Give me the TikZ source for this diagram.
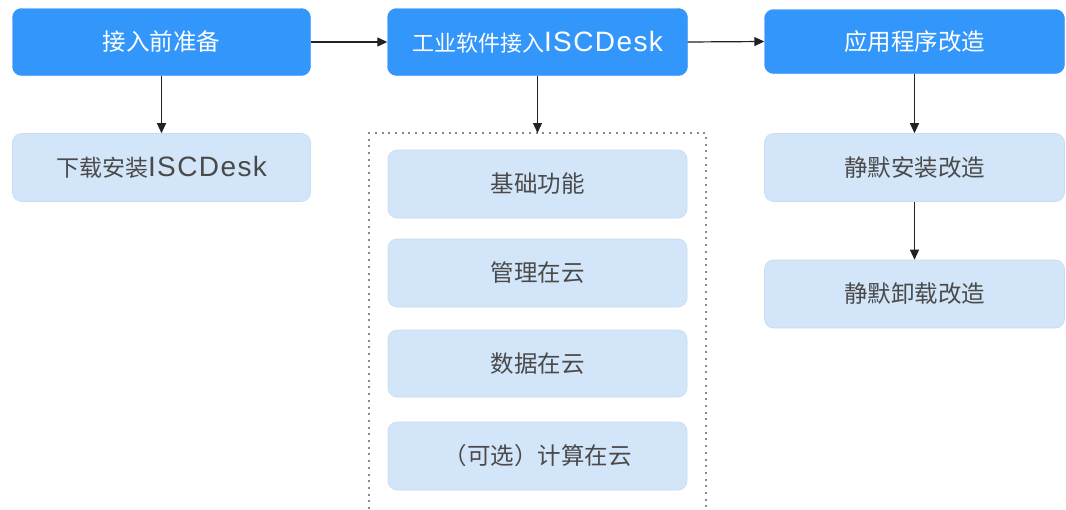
\documentclass[tikz,border=0pt]{standalone}
\usepackage{fontspec}
\setmainfont{Noto Sans CJK SC}
\newfontfamily\latfont{Liberation Sans}[LetterSpace=5]
\newcommand{\iscname}[1]{{\latfont\fontsize{#1}{30}\selectfont ISCDesk}}
\usetikzlibrary{arrows.meta}
\definecolor{darkbox}{HTML}{3396FB}
\definecolor{lightbox}{HTML}{D3E6F9}
\definecolor{lightline}{HTML}{C6DCF2}
\definecolor{lighttext}{HTML}{4A4A4A}
\definecolor{arrowc}{HTML}{222222}
\definecolor{dotc}{HTML}{8A8A8A}
\tikzset{
  base/.style={rectangle, rounded corners=9pt, inner sep=0pt, font=\fontsize{23.5}{28}\selectfont},
  mainbox/.style={base, fill=darkbox, draw=darkbox, text=white},
  subbox/.style={base, fill=lightbox, draw=lightline, line width=0.6pt, text=lighttext},
  flow/.style={draw=arrowc, line width=1.2pt, -{Triangle[length=10pt,width=9pt]}},
  frame/.style={draw=dotc, line width=2pt, dash pattern=on 2pt off 4.7pt}
}
\begin{document}
\begin{tikzpicture}[x=1pt,y=-1pt]
\useasboundingbox (0,0) rectangle (1066,509);
% top row
\node[mainbox, minimum width=298pt, minimum height=67pt] (A) at (161.5,42) {接入前准备};
\node[mainbox, minimum width=300pt, minimum height=67pt, font=\fontsize{22}{28}\selectfont] (B) at (537.5,42) {工业软件接入\iscname{28}};
\node[mainbox, minimum width=300pt, minimum height=64pt] (C) at (914.5,41.5) {应用程序改造};
% left column
\node[subbox, minimum width=298pt, minimum height=68pt, font=\fontsize{23}{28}\selectfont] (A1) at (161.5,167.5) {下载安装\iscname{28}};
% middle column
\node[subbox, minimum width=299pt, minimum height=68pt] (B1) at (537.5,184) {基础功能};
\node[subbox, minimum width=299pt, minimum height=68pt] (B2) at (537.5,273) {管理在云};
\node[subbox, minimum width=299pt, minimum height=67pt] (B3) at (537.5,363.5) {数据在云};
\node[subbox, minimum width=299pt, minimum height=68pt] (B4) at (537.5,456) {（可选）计算在云};
% right column
\node[subbox, minimum width=300pt, minimum height=68pt] (C1) at (914.5,167.5) {静默安装改造};
\node[subbox, minimum width=300pt, minimum height=68pt] (C2) at (914.5,294) {静默卸载改造};
% dotted frame (open at the bottom edge)
\coordinate (fbl) at (369,509);
\coordinate (ftl) at (369,133);
\coordinate (ftr) at (706,133);
\coordinate (fbr) at (706,509);
\coordinate (ft) at (537.5,133);
\draw[frame] (fbl) -- (ftl) -- (ftr) -- (fbr);
% connectors
\draw[flow] (A.east) -- (B.west);
\draw[flow] (B.east) -- (C.west);
\draw[flow] (A.south) -- (A1.north);
\draw[flow] (B.south) -- (ft);
\draw[flow] (C.south) -- (C1.north);
\draw[flow] (C1.south) -- (C2.north);
\end{tikzpicture}
\end{document}
